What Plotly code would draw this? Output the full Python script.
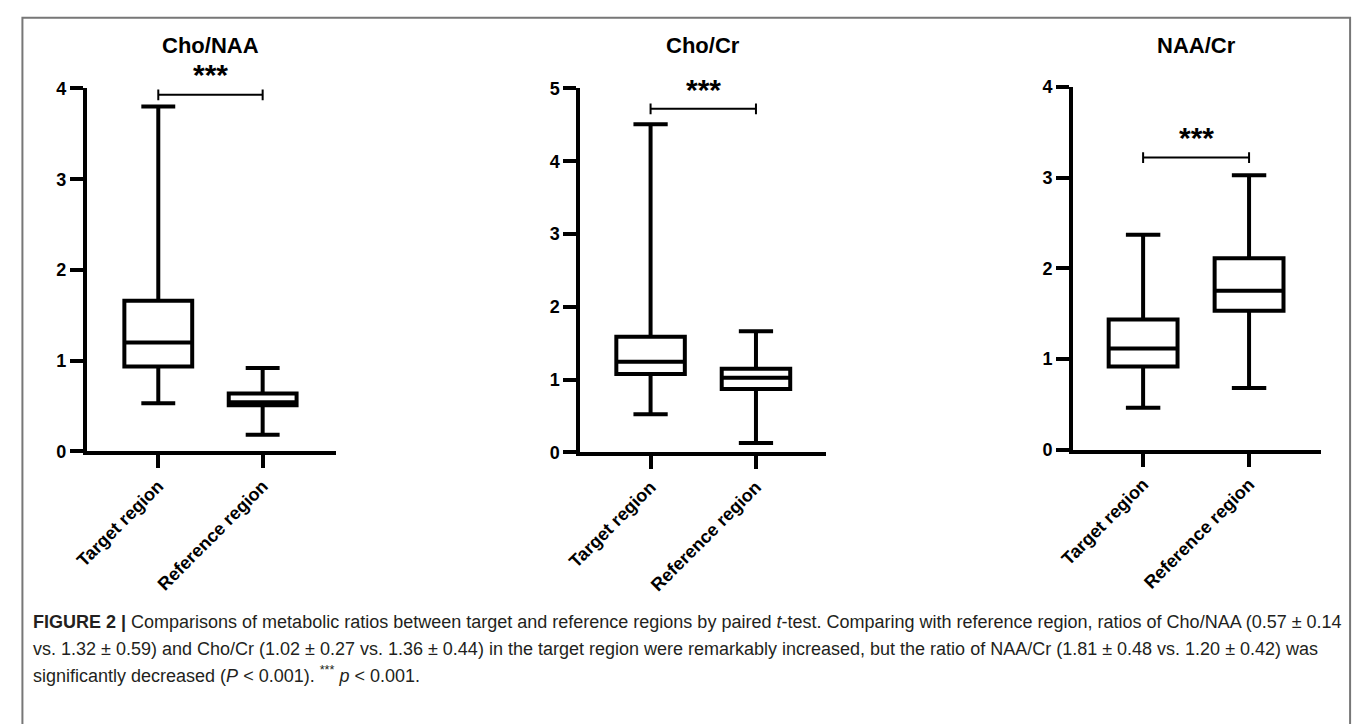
import plotly.graph_objects as go

W, H = 1358, 724

categories = ["Target region", "Reference region"]
titles = ["Cho/NAA", "Cho/Cr", "NAA/Cr"]

# box statistics per panel: [Target, Reference]
cho_naa_lower = [0.53, 0.185]
cho_naa_q1 = [0.935, 0.51]
cho_naa_median = [1.20, 0.543]
cho_naa_q3 = [1.66, 0.64]
cho_naa_upper = [3.80, 0.92]

cho_cr_lower = [0.525, 0.13]
cho_cr_q1 = [1.077, 0.87]
cho_cr_median = [1.245, 1.025]
cho_cr_q3 = [1.59, 1.148]
cho_cr_upper = [4.51, 1.665]

naa_cr_lower = [0.464, 0.68]
naa_cr_q1 = [0.917, 1.532]
naa_cr_median = [1.115, 1.753]
naa_cr_q3 = [1.436, 2.11]
naa_cr_upper = [2.37, 3.026]

y_max = [4, 5, 4]
y_ticks = [[0, 1, 2, 3, 4], [0, 1, 2, 3, 4, 5], [0, 1, 2, 3, 4]]
sig_y = [3.93, 4.72, 3.22]
star_y = [4.15, 4.99, 3.44]
sig_label = "***"

caption_lines = [
    "<b>FIGURE 2 |</b> Comparisons of metabolic ratios between target and reference regions by paired <i>t</i>-test. "
    "Comparing with reference region, ratios of Cho/NAA (0.57 \u00b1 0.14",
    "vs. 1.32 \u00b1 0.59) and Cho/Cr (1.02 \u00b1 0.27 vs. 1.36 \u00b1 0.44) in the target region were remarkably "
    "increased, but the ratio of NAA/Cr (1.81 \u00b1 0.48 vs. 1.20 \u00b1 0.42) was",
    "significantly decreased (<i>P</i> &lt; 0.001). <sup>***</sup> <i>p</i> &lt; 0.001.",
]

panels = [
    (cho_naa_lower, cho_naa_q1, cho_naa_median, cho_naa_q3, cho_naa_upper),
    (cho_cr_lower, cho_cr_q1, cho_cr_median, cho_cr_q3, cho_cr_upper),
    (naa_cr_lower, naa_cr_q1, naa_cr_median, naa_cr_q3, naa_cr_upper),
]

# layout in pixels
x_dom_px = [(72.7, 324.3), (571.7, 820.0), (1070.0, 1320.7)]
y_dom_px = [(454.0, 80.7), (455.0, 80.7), (452.3, 79.0)]
x_ranges = [[-0.684, 1.70], [-0.666, 1.664], [-0.66, 1.68]]
px_per_unit = [93.3, 74.9, 93.3]

fig = go.Figure()
font_main = "Liberation Sans, Arial, sans-serif"

for i, (lo, q1, med, q3, up) in enumerate(panels):
    n = "" if i == 0 else str(i + 1)
    xa, ya = "x" + n, "y" + n
    fig.add_trace(go.Box(
        x=categories, lowerfence=lo, q1=q1, median=med, q3=q3, upperfence=up,
        xaxis=xa, yaxis=ya, width=0.65, whiskerwidth=0.5,
        line=dict(color="black", width=4), fillcolor="white",
        boxpoints=False, showlegend=False, hoverinfo="skip",
    ))
    x0, x1 = x_dom_px[i]
    yb, yt = y_dom_px[i]
    axis_common = dict(showline=True, linewidth=4, linecolor="black", ticks="outside",
                       tickwidth=4, ticklen=13, tickcolor="black", showgrid=False,
                       zeroline=False,
                       tickfont=dict(family=font_main, size=18, color="black", weight="bold"))
    fig.update_layout(**{
        "xaxis" + n: dict(domain=[x0 / W, x1 / W], anchor=ya, type="category",
                          categoryorder="array", categoryarray=categories,
                          range=x_ranges[i], tickangle=-45, **axis_common),
        "yaxis" + n: dict(domain=[1 - yb / H, 1 - yt / H], anchor=xa,
                          range=[0, y_max[i]], tickvals=y_ticks[i], **axis_common),
    })
    # significance bracket
    d = 5.5 / px_per_unit[i]
    fig.add_shape(type="line", xref=xa, yref=ya, x0=0, x1=1, y0=sig_y[i], y1=sig_y[i],
                  line=dict(color="black", width=2))
    for xc in (0, 1):
        fig.add_shape(type="line", xref=xa, yref=ya, x0=xc, x1=xc,
                      y0=sig_y[i] - d, y1=sig_y[i] + d, line=dict(color="black", width=2))
    fig.add_annotation(x=0.5, y=star_y[i] / y_max[i], xref=xa, yref=ya + " domain",
                       text=sig_label, showarrow=False,
                       font=dict(family=font_main, size=30, color="black", weight="bold"),
                       xanchor="center", yanchor="middle")
    # panel title
    fig.add_annotation(x=0.5, y=1 - 36 / H, xref=xa, yref="paper", text=titles[i],
                       showarrow=False, xanchor="center", yanchor="middle",
                       font=dict(family=font_main, size=22, color="black", weight="bold"))

# caption
cap_y = [629, 657, 683]
for line, yp in zip(caption_lines, cap_y):
    fig.add_annotation(x=16 / W, y=1 - yp / H, xref="paper", yref="paper", text=line,
                       showarrow=False, xanchor="left", yanchor="middle", align="left",
                       font=dict(family="Liberation Sans, Arial", size=18, color="#231f20"))

# figure frame
fig.add_shape(type="rect", xref="paper", yref="paper", x0=7.5 / W, x1=1350 / W,
              y0=-0.05, y1=1 - 8 / H, line=dict(color="#777777", width=2),
              fillcolor="rgba(0,0,0,0)", layer="below")

fig.update_layout(width=W, height=H, autosize=False,
                  margin=dict(l=0, r=0, t=0, b=0),
                  paper_bgcolor="white", plot_bgcolor="white")

fig.write_html("out.html",
               config={"displayModeBar": False, "staticPlot": True},
               post_script="document.body.style.margin='0px';document.body.style.overflow='hidden';")
